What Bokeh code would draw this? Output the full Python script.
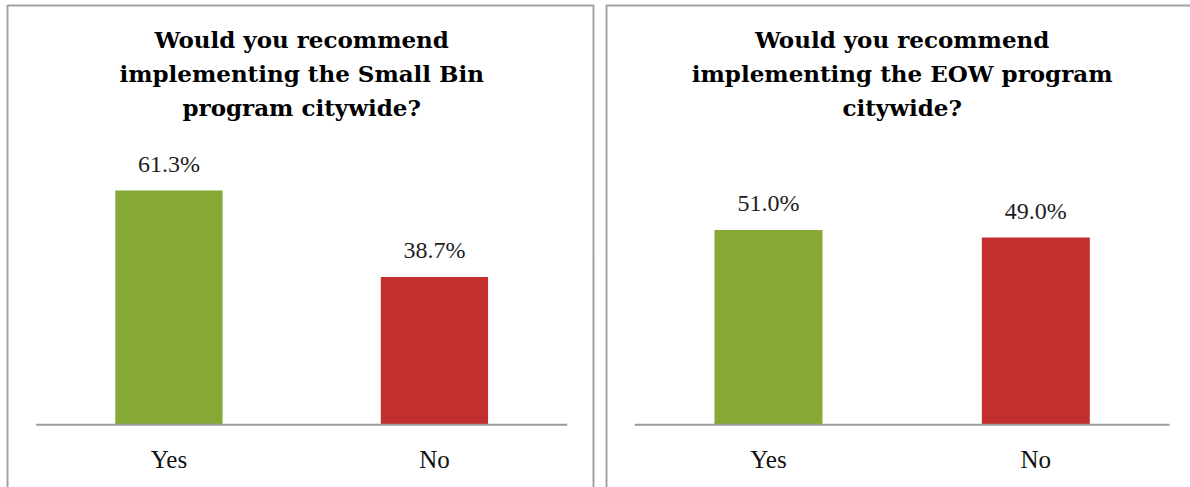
from bokeh.plotting import figure
from bokeh.models import Range1d, BoxAnnotation, Label, ColumnDataSource
from bokeh.layouts import row
from bokeh.core.properties import value
from bokeh.embed import file_html
from bokeh.resources import INLINE

# ---- data ----
categories = ["Yes", "No"]
small_bin_values = [61.3, 38.7]
eow_values = [51.0, 49.0]
title_small_bin = "Would you recommend\nimplementing the Small Bin\nprogram citywide?"
title_eow = "Would you recommend\nimplementing the EOW program\ncitywide?"
bar_colors = ["#85A934", "#C32E2F"]

# ---- layout constants (pixels) ----
H = 487
BASE_PX = 424.3          # canvas y of the zero line
PX_PER_PCT = 3.822       # vertical pixels per percent
BORDER_COLOR = "#a2a2a2"
AXIS_COLOR = "#9a9a9a"


def make_panel(title, values, width, axis_left, axis_right, border_left, border_right):
    ppu = (axis_right - axis_left) / len(categories)
    x0 = -0.5 - axis_left / ppu
    x1 = x0 + width / ppu
    y1 = BASE_PX / PX_PER_PCT
    y0 = -(H - BASE_PX) / PX_PER_PCT

    def dx(px):
        return x0 + px / ppu

    def dy(py):
        return y1 - py / PX_PER_PCT

    p = figure(width=width, height=H, x_range=Range1d(x0, x1), y_range=Range1d(y0, y1),
               output_backend="svg", toolbar_location=None, min_border=0,
               background_fill_color="white", border_fill_color="white")
    p.xaxis.visible = False
    p.yaxis.visible = False
    p.grid.visible = False
    p.outline_line_color = None

    idx = list(range(len(categories)))
    src = ColumnDataSource(dict(
        x=idx, top=values, color=bar_colors,
        label=[f"{v:.1f}%" for v in values], cat=categories,
        zero=[0] * len(categories)))

    p.vbar(x="x", top="top", width=0.404, color="color", line_color=None, source=src)

    # baseline (category axis line)
    p.segment(x0=[-0.5], x1=[len(categories) - 0.5], y0=[0], y1=[0],
              line_color=AXIS_COLOR, line_width=2)

    # value labels
    p.text(x="x", y="top", text="label", source=src, y_offset=-27,
           text_align="center", text_baseline="alphabetic",
           text_font=value("Liberation Serif"), text_font_size="24px", text_color="#1e1e1e")

    # category labels
    p.text(x="x", y="zero", text="cat", source=src, y_offset=35,
           text_align="center", text_baseline="alphabetic",
           text_font=value("Liberation Serif"), text_font_size="25px", text_color="#111111")

    # title
    p.add_layout(Label(x=(len(categories) - 1) / 2, y=dy(25), text=title,
                       text_align="center", text_baseline="top",
                       text_font="DejaVu Serif", text_font_style="bold",
                       text_font_size="23px", text_color="#000000",
                       text_line_height=1.26))

    # panel border (bottom edge lies beyond the canvas)
    p.add_layout(BoxAnnotation(left=dx(border_left), right=dx(border_right),
                               top=dy(5), bottom=y0 - 20,
                               fill_alpha=0, fill_color=None,
                               line_color=BORDER_COLOR, line_alpha=1.0, line_width=2))
    return p


p1 = make_panel(title_small_bin, small_bin_values, 600, 35.7, 566.7, 7, 593)
p2 = make_panel(title_eow, eow_values, 590, 34.3, 569.0, 6, 600)

layout = row(p1, p2)
open("out.html", "w").write(file_html(layout, INLINE))
